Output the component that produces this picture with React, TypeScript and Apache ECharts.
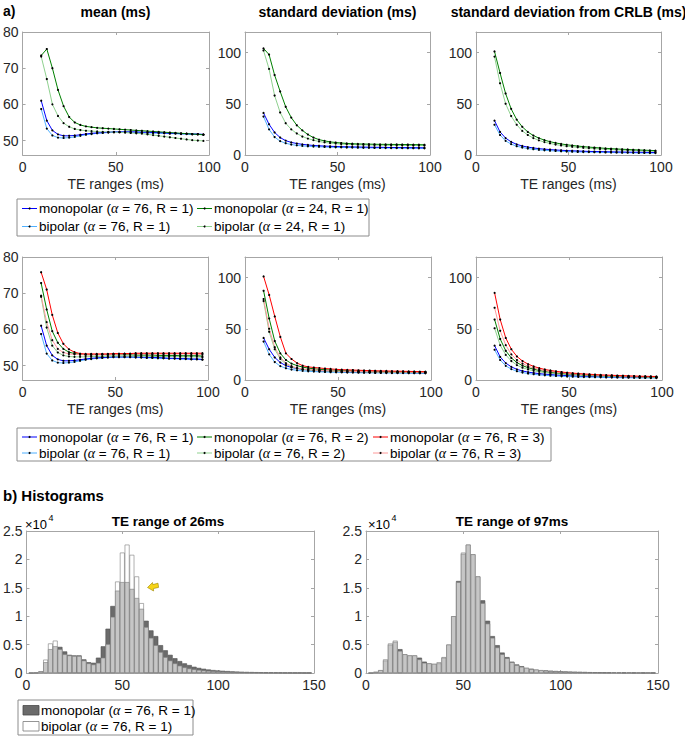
import React, { useEffect, useRef } from 'react';
import * as echarts from 'echarts';

// ---------- data ----------
const TE_RANGES = [10, 13, 16, 19, 22, 25, 28, 31, 34, 37, 40, 43, 46, 49, 52, 55, 58, 61, 64, 67, 70, 73, 76, 79, 82, 85, 88, 91, 94, 97];

const meanMono76 = [61.0, 55.5, 52.8, 51.7, 51.3, 51.3, 51.4, 51.6, 51.8, 52.0, 52.1, 52.2, 52.3, 52.4, 52.4, 52.4, 52.4, 52.4, 52.3, 52.3, 52.2, 52.2, 52.1, 52.0, 52.0, 51.9, 51.9, 51.8, 51.8, 51.7];
const meanBi76 = [58.7, 53.3, 51.4, 50.8, 50.7, 50.8, 51.0, 51.3, 51.6, 51.8, 52.0, 52.1, 52.2, 52.3, 52.3, 52.3, 52.3, 52.2, 52.2, 52.1, 52.1, 52.0, 52.0, 51.9, 51.9, 51.8, 51.8, 51.7, 51.7, 51.6];
const meanMono24 = [73.5, 75.3, 70.0, 64.0, 59.5, 56.5, 55.0, 54.3, 53.9, 53.7, 53.5, 53.4, 53.3, 53.2, 53.1, 53.0, 52.9, 52.8, 52.7, 52.6, 52.5, 52.4, 52.3, 52.2, 52.1, 52.0, 51.9, 51.8, 51.7, 51.6];
const meanBi24 = [73.2, 67.0, 60.0, 56.8, 54.8, 53.8, 53.2, 52.9, 52.7, 52.6, 52.5, 52.4, 52.4, 52.3, 52.3, 52.2, 52.1, 52.0, 51.9, 51.7, 51.5, 51.3, 51.1, 50.9, 50.7, 50.5, 50.3, 50.1, 50.0, 49.9];

const sdMono76 = [41, 30, 22, 17, 14, 12.3, 11.2, 10.4, 9.8, 9.3, 9.0, 8.7, 8.5, 8.3, 8.1, 8.0, 7.9, 7.8, 7.7, 7.6, 7.5, 7.5, 7.4, 7.3, 7.3, 7.2, 7.2, 7.1, 7.1, 7.0];
const sdBi76 = [37.5, 25, 17.5, 13.5, 11.5, 10.2, 9.4, 8.9, 8.5, 8.2, 8.0, 7.8, 7.6, 7.5, 7.4, 7.3, 7.2, 7.1, 7.0, 7.0, 6.9, 6.9, 6.8, 6.8, 6.7, 6.7, 6.6, 6.6, 6.5, 6.5];
const sdMono24 = [104, 98, 78, 62, 47, 36.5, 29, 24, 20, 17, 15, 13.8, 12.8, 12.2, 11.7, 11.3, 11.0, 10.8, 10.7, 10.6, 10.5, 10.4, 10.4, 10.3, 10.3, 10.2, 10.2, 10.1, 10.1, 10.0];
const sdBi24 = [102, 84, 58, 41.5, 31, 25, 21, 18, 16, 14.5, 13.2, 12.3, 11.6, 11.1, 10.7, 10.4, 10.2, 10.0, 9.9, 9.8, 9.7, 9.6, 9.5, 9.5, 9.4, 9.4, 9.3, 9.3, 9.2, 9.2];

const crlbMono24 = [101, 80, 60, 45, 34.5, 27.5, 22.5, 19, 16.5, 14.5, 13, 11.8, 10.8, 10, 9.3, 8.7, 8.2, 7.7, 7.3, 6.9, 6.5, 6.2, 5.9, 5.6, 5.4, 5.1, 4.9, 4.7, 4.5, 4.3];
const crlbBi24 = [96, 70, 50, 38, 29.5, 23.5, 19.5, 16.5, 14.3, 12.6, 11.3, 10.2, 9.3, 8.6, 8.0, 7.5, 7.0, 6.6, 6.2, 5.9, 5.6, 5.3, 5.0, 4.8, 4.6, 4.4, 4.2, 4.0, 3.8, 3.7];
const crlbMono76 = [33.5, 22.5, 16.5, 12.8, 10.4, 8.8, 7.7, 6.9, 6.2, 5.7, 5.3, 4.9, 4.6, 4.3, 4.1, 3.9, 3.7, 3.5, 3.4, 3.3, 3.2, 3.1, 3.0, 2.9, 2.8, 2.7, 2.7, 2.6, 2.5, 2.5];
const crlbBi76 = [29.5, 19.5, 13.8, 10.6, 8.6, 7.3, 6.3, 5.6, 5.0, 4.6, 4.2, 3.9, 3.6, 3.4, 3.2, 3.0, 2.9, 2.8, 2.7, 2.6, 2.5, 2.4, 2.3, 2.2, 2.2, 2.1, 2.0, 2.0, 1.9, 1.9];

const meanMonoR2 = [72.8, 65.5, 59.5, 56.3, 54.6, 53.7, 53.3, 53.1, 53.0, 53.0, 53.0, 53.0, 53.0, 53.0, 53.0, 53.0, 53.0, 52.9, 52.9, 52.9, 52.9, 52.8, 52.8, 52.8, 52.8, 52.7, 52.7, 52.7, 52.7, 52.6];
const meanBiR2 = [69.0, 60.5, 55.5, 53.6, 52.8, 52.5, 52.4, 52.4, 52.4, 52.5, 52.5, 52.5, 52.6, 52.6, 52.6, 52.6, 52.6, 52.6, 52.6, 52.6, 52.5, 52.5, 52.5, 52.5, 52.5, 52.4, 52.4, 52.4, 52.4, 52.3];
const meanMonoR3 = [75.8, 71.0, 64.0, 59.0, 56.0, 54.5, 53.7, 53.3, 53.2, 53.2, 53.2, 53.2, 53.2, 53.3, 53.3, 53.3, 53.3, 53.4, 53.4, 53.4, 53.4, 53.4, 53.4, 53.4, 53.4, 53.4, 53.4, 53.4, 53.4, 53.4];
const meanBiR3 = [69.3, 62.0, 57.0, 54.6, 53.6, 53.2, 53.1, 53.0, 53.0, 53.0, 53.0, 53.1, 53.1, 53.1, 53.1, 53.2, 53.2, 53.2, 53.2, 53.2, 53.2, 53.2, 53.2, 53.2, 53.2, 53.2, 53.2, 53.2, 53.1, 53.1];

const sdMonoR2 = [87, 60, 38, 26, 19.5, 16, 14, 12.6, 11.6, 10.9, 10.4, 10.0, 9.7, 9.4, 9.2, 9.0, 8.8, 8.7, 8.6, 8.5, 8.4, 8.3, 8.2, 8.1, 8.0, 8.0, 7.9, 7.9, 7.8, 7.8];
const sdBiR2 = [77, 47, 30, 20.5, 15.5, 12.8, 11.3, 10.3, 9.7, 9.3, 9.0, 8.7, 8.5, 8.3, 8.1, 8.0, 7.9, 7.8, 7.7, 7.6, 7.5, 7.5, 7.4, 7.4, 7.3, 7.3, 7.2, 7.2, 7.1, 7.1];
const sdMonoR3 = [101, 83, 62, 42, 26, 20.5, 16.5, 14, 12.8, 12.2, 11.7, 11.2, 10.8, 10.4, 10.1, 9.9, 9.7, 9.5, 9.3, 9.2, 9.0, 8.9, 8.8, 8.7, 8.6, 8.5, 8.4, 8.3, 8.2, 8.1];
const sdBiR3 = [79, 50, 32, 22, 16.5, 13.5, 11.8, 10.8, 10.2, 9.8, 9.5, 9.2, 9.0, 8.8, 8.6, 8.5, 8.4, 8.3, 8.2, 8.1, 8.0, 7.9, 7.9, 7.8, 7.8, 7.7, 7.7, 7.6, 7.6, 7.5];

const crlbMonoR2 = [59, 40, 28.5, 21.5, 17, 14, 12, 10.5, 9.3, 8.4, 7.6, 7.0, 6.5, 6.1, 5.7, 5.4, 5.1, 4.8, 4.6, 4.4, 4.2, 4.0, 3.8, 3.7, 3.5, 3.4, 3.3, 3.2, 3.1, 3.0];
const crlbBiR2 = [50.5, 34, 24.5, 18.5, 14.5, 12, 10.3, 9.0, 8.0, 7.2, 6.6, 6.1, 5.6, 5.2, 4.9, 4.6, 4.3, 4.1, 3.9, 3.7, 3.5, 3.4, 3.2, 3.1, 3.0, 2.9, 2.8, 2.7, 2.6, 2.5];
const crlbMonoR3 = [85, 59, 41, 30, 23, 18.5, 15.5, 13.3, 11.6, 10.3, 9.3, 8.5, 7.8, 7.2, 6.7, 6.3, 5.9, 5.6, 5.3, 5.0, 4.8, 4.6, 4.4, 4.2, 4.0, 3.9, 3.7, 3.6, 3.5, 3.4];
const crlbBiR3 = [70.5, 48, 34, 25, 19.5, 16, 13.5, 11.7, 10.3, 9.2, 8.3, 7.6, 7.0, 6.5, 6.0, 5.6, 5.3, 5.0, 4.7, 4.5, 4.3, 4.1, 3.9, 3.7, 3.6, 3.4, 3.3, 3.2, 3.1, 3.0];

// histogram bin centres (ms) and counts (x10^4)
const HIST_CENTERS = [
  2.5, 5, 7.5, 10, 12.5, 15, 17.5, 20, 22.5, 25,
  27.5, 30, 32.5, 35, 37.5, 40, 42.5, 45, 47.5, 50,
  52.5, 55, 57.5, 60, 62.5, 65, 67.5, 70, 72.5, 75,
  77.5, 80, 82.5, 85, 87.5, 90, 92.5, 95, 97.5, 100,
  102.5, 105, 107.5, 110, 112.5, 115, 117.5, 120, 122.5, 125,
  127.5, 130, 132.5, 135, 137.5, 140, 142.5, 145, 147.5,
];
const hist26Mono = [
  0.003, 0.005, 0.03, 0.19, 0.42, 0.47, 0.46, 0.38, 0.32, 0.31,
  0.31, 0.24, 0.19, 0.18, 0.27, 0.47, 0.78, 1.18, 1.45, 1.60,
  1.60, 1.48, 1.32, 1.13, 0.92, 0.75, 0.65, 0.49, 0.40, 0.32,
  0.26, 0.21, 0.17, 0.14, 0.11, 0.09, 0.075, 0.062, 0.052, 0.045,
  0.039, 0.034, 0.029, 0.025, 0.022, 0.019, 0.017, 0.015, 0.013, 0.012,
  0.011, 0.010, 0.009, 0.008, 0.008, 0.007, 0.007, 0.006, 0.006,
];
const hist26Bi = [
  0.003, 0.005, 0.03, 0.235, 0.52, 0.57, 0.42, 0.33, 0.31, 0.30,
  0.30, 0.22, 0.17, 0.15, 0.18, 0.27, 0.51, 0.99, 1.61, 2.12,
  2.26, 2.08, 1.70, 1.23, 0.81, 0.62, 0.49, 0.37, 0.28, 0.22,
  0.17, 0.13, 0.10, 0.08, 0.065, 0.055, 0.045, 0.038, 0.032, 0.028,
  0.024, 0.021, 0.018, 0.016, 0.014, 0.013, 0.012, 0.011, 0.010, 0.009,
  0.009, 0.008, 0.008, 0.007, 0.007, 0.006, 0.006, 0.005, 0.005,
];
const hist97Mono = [
  0.002, 0.02, 0.05, 0.22, 0.50, 0.55, 0.42, 0.33, 0.31, 0.31,
  0.27, 0.20, 0.17, 0.16, 0.17, 0.27, 0.50, 1.00, 1.62, 2.10,
  2.26, 2.09, 1.70, 1.28, 0.92, 0.65, 0.49, 0.36, 0.28, 0.20,
  0.15, 0.12, 0.09, 0.075, 0.06, 0.05, 0.045, 0.04, 0.035, 0.03,
  0.027, 0.024, 0.021, 0.019, 0.017, 0.015, 0.014, 0.013, 0.012, 0.011,
  0.010, 0.009, 0.009, 0.008, 0.008, 0.007, 0.007, 0.006, 0.006,
];
const hist97Bi = [
  0.002, 0.02, 0.05, 0.24, 0.52, 0.57, 0.39, 0.33, 0.31, 0.31,
  0.24, 0.18, 0.17, 0.16, 0.19, 0.28, 0.50, 1.00, 1.60, 2.12,
  2.26, 2.09, 1.70, 1.23, 0.87, 0.62, 0.45, 0.33, 0.26, 0.19,
  0.14, 0.11, 0.09, 0.07, 0.06, 0.05, 0.04, 0.035, 0.032, 0.028,
  0.025, 0.022, 0.02, 0.018, 0.016, 0.014, 0.013, 0.012, 0.011, 0.010,
  0.010, 0.009, 0.008, 0.008, 0.007, 0.007, 0.006, 0.006, 0.005,
];

const PANEL_TITLES = ['mean (ms)', 'standard deviation (ms)', 'standard deviation from CRLB (ms)'];
const X_NAME = 'TE ranges (ms)';
const HIST_TITLES = ['TE range of 26ms', 'TE range of 97ms'];
const MEAN_TICKS = [50, 60, 70, 80];
const SD_TICKS = [0, 50, 100];

// ---------- styling ----------
const FONT = '"Liberation Sans", Arial, Helvetica, sans-serif';
const SERIF = '"Liberation Serif", "Times New Roman", serif';
const INK = '#262626';
const FRAME = '#a6a6a6';
const COL = {
  blue: '#0000ff',
  lblue: '#4fb0ff',
  dgreen: '#007f00',
  lgreen: '#8fd18f',
  red: '#ff0000',
  pink: '#ff9a9a',
};
const DARK_BAR = '#6b6b6b';
const LIGHT_BAR = '#c6c6c6';

const GRIDS = [
  { left: 22, top: 32, width: 187, height: 123 },
  { left: 245, top: 32, width: 185, height: 123 },
  { left: 476, top: 32, width: 185, height: 123 },
  { left: 22, top: 257, width: 186, height: 123 },
  { left: 245, top: 257, width: 186, height: 123 },
  { left: 476, top: 257, width: 186, height: 123 },
  { left: 22, top: 531, width: 292, height: 142 },
  { left: 366, top: 531, width: 292, height: 142 },
];

function makeX(gi: number, min: number, max: number, interval: number, name?: string) {
  const base: any = {
    type: 'value', gridIndex: gi, min, max, interval,
    splitLine: { show: false },
    axisLine: { show: true, onZero: false, lineStyle: { color: FRAME, width: 1 } },
    axisTick: { show: true, inside: true, length: 3, lineStyle: { color: FRAME, width: 1 } },
  };
  return [
    {
      ...base, position: 'bottom',
      axisLabel: { show: true, color: INK, fontSize: 14, margin: 5, fontFamily: FONT },
      name: name || '', nameLocation: 'middle', nameGap: 22,
      nameTextStyle: { color: INK, fontSize: 14, fontFamily: FONT },
    },
    { ...base, position: 'top', axisLabel: { show: false } },
  ];
}

function makeY(gi: number, min: number, max: number, ticks: number[] | null, interval?: number) {
  const custom = ticks ? { customValues: ticks } : {};
  const base: any = {
    type: 'value', gridIndex: gi, min, max,
    splitLine: { show: false },
    axisLine: { show: true, onZero: false, lineStyle: { color: FRAME, width: 1 } },
    axisTick: { show: true, inside: true, length: 3, lineStyle: { color: FRAME, width: 1 }, ...custom },
  };
  if (interval !== undefined) base.interval = interval;
  return [
    { ...base, position: 'left', axisLabel: { show: true, color: INK, fontSize: 14, margin: 4, fontFamily: FONT, ...custom } },
    { ...base, position: 'right', axisLabel: { show: false } },
  ];
}

function line(gi: number, ys: number[], color: string) {
  return {
    type: 'line', xAxisIndex: 2 * gi, yAxisIndex: 2 * gi,
    data: TE_RANGES.map((x, i) => [x, ys[i]]),
    symbol: 'circle', symbolSize: 2.2, showSymbol: true,
    lineStyle: { color, width: 1 }, itemStyle: { color: '#000' },
    silent: true, emphasis: { disabled: true },
  };
}

// two overlaid histograms: the taller bar of each bin (dark = monopolar only,
// white = bipolar only), with the shared part drawn light grey on top
function hist(gi: number, mono: number[], bi: number[]) {
  const common: any = {
    type: 'bar', xAxisIndex: 2 * gi, yAxisIndex: 2 * gi,
    barWidth: 4.87, barGap: '-100%', silent: true,
  };
  return [
    {
      ...common, z: 2,
      data: HIST_CENTERS.map((x, i) => ({
        value: [x, Math.max(mono[i], bi[i])],
        itemStyle: mono[i] > bi[i]
          ? { color: DARK_BAR, borderColor: '#505050', borderWidth: 0.6 }
          : { color: '#ffffff', borderColor: '#7a7a7a', borderWidth: 0.6 },
      })),
    },
    {
      ...common, z: 3,
      data: HIST_CENTERS.map((x, i) => [x, Math.min(mono[i], bi[i])]),
      itemStyle: { color: LIGHT_BAR, borderColor: '#7a7a7a', borderWidth: 0.6 },
    },
  ];
}

function richText(kind: string, alpha: number, r: number) {
  return `{n|${kind} (}{a|α}{n| = ${alpha}, R = ${r})}`;
}
const RICH = {
  n: { fontSize: 13.5, fontFamily: FONT, color: '#000', fill: '#000' },
  a: { fontSize: 14, fontFamily: SERIF, fontStyle: 'italic', color: '#000', fill: '#000' },
};

function txt(x: number, y: number, text: string, size: number, weight: string, align = 'left', family = FONT) {
  return {
    type: 'text', x, y, silent: true,
    style: {
      text, fontSize: size, fontWeight: weight, fontFamily: family, fill: '#000',
      align, verticalAlign: 'middle', textAlign: align, textVerticalAlign: 'middle',
    },
  };
}

function legendLine(x: number, y: number, color: string, label: string) {
  return [
    { type: 'line', silent: true, shape: { x1: x, y1: y, x2: x + 15, y2: y }, style: { stroke: color, lineWidth: 1 } },
    { type: 'circle', silent: true, shape: { cx: x + 7.5, cy: y, r: 1 }, style: { fill: '#000' } },
    {
      type: 'text', silent: true, x: x + 17, y,
      style: { text: label, rich: RICH, fontSize: 13.5, fontFamily: FONT, fill: '#000', verticalAlign: 'middle', textVerticalAlign: 'middle' },
    },
  ];
}

function legendBox(x: number, y: number, w: number, h: number) {
  return { type: 'rect', silent: true, shape: { x, y, width: w, height: h }, style: { fill: '#fff', stroke: '#8c8c8c', lineWidth: 1 } };
}

export default function App() {
  const ref = useRef<HTMLDivElement>(null);

  useEffect(() => {
    if (!ref.current) return;
    const chart = echarts.init(ref.current, null, { renderer: 'svg' });

    const xAxis: any[] = [];
    const yAxis: any[] = [];
    for (let g = 0; g < 6; g++) {
      xAxis.push(...makeX(g, 0, 100, 50, X_NAME));
      const isMean = g % 3 === 0;
      yAxis.push(...(isMean ? makeY(g, 46, 80, MEAN_TICKS) : makeY(g, 0, 120, SD_TICKS)));
    }
    for (let g = 6; g < 8; g++) {
      xAxis.push(...makeX(g, 0, 150, 50));
      yAxis.push(...makeY(g, 0, 2.5, null, 0.5));
    }

    const series: any[] = [
      line(0, meanBi76, COL.lblue), line(0, meanMono76, COL.blue), line(0, meanBi24, COL.lgreen), line(0, meanMono24, COL.dgreen),
      line(1, sdBi76, COL.lblue), line(1, sdMono76, COL.blue), line(1, sdBi24, COL.lgreen), line(1, sdMono24, COL.dgreen),
      line(2, crlbBi76, COL.lblue), line(2, crlbMono76, COL.blue), line(2, crlbBi24, COL.lgreen), line(2, crlbMono24, COL.dgreen),
      line(3, meanBi76, COL.lblue), line(3, meanMono76, COL.blue), line(3, meanBiR2, COL.lgreen), line(3, meanMonoR2, COL.dgreen), line(3, meanBiR3, COL.pink), line(3, meanMonoR3, COL.red),
      line(4, sdBi76, COL.lblue), line(4, sdMono76, COL.blue), line(4, sdBiR2, COL.lgreen), line(4, sdMonoR2, COL.dgreen), line(4, sdBiR3, COL.pink), line(4, sdMonoR3, COL.red),
      line(5, crlbBi76, COL.lblue), line(5, crlbMono76, COL.blue), line(5, crlbBiR2, COL.lgreen), line(5, crlbMonoR2, COL.dgreen), line(5, crlbBiR3, COL.pink), line(5, crlbMonoR3, COL.red),
      ...hist(6, hist26Mono, hist26Bi),
      ...hist(7, hist97Mono, hist97Bi),
    ];

    const graphic: any[] = [
      txt(3, 11, 'a)', 14, 'bold'),
      txt(115.5, 12, PANEL_TITLES[0], 14, 'bold', 'center'),
      txt(337.5, 12, PANEL_TITLES[1], 14, 'bold', 'center'),
      txt(568.5, 12, PANEL_TITLES[2], 14, 'bold', 'center'),
      // legend 1
      legendBox(17, 199, 352, 37),
      ...legendLine(22, 208.5, COL.blue, richText('monopolar', 76, 1)),
      ...legendLine(197, 208.5, COL.dgreen, richText('monopolar', 24, 1)),
      ...legendLine(22, 226.5, COL.lblue, richText('bipolar', 76, 1)),
      ...legendLine(197, 226.5, COL.lgreen, richText('bipolar', 24, 1)),
      // legend 2
      legendBox(17, 428, 534, 33),
      ...legendLine(22, 437, COL.blue, richText('monopolar', 76, 1)),
      ...legendLine(197, 437, COL.dgreen, richText('monopolar', 76, 2)),
      ...legendLine(373, 437, COL.red, richText('monopolar', 76, 3)),
      ...legendLine(22, 453, COL.lblue, richText('bipolar', 76, 1)),
      ...legendLine(197, 453, COL.lgreen, richText('bipolar', 76, 2)),
      ...legendLine(373, 453, COL.pink, richText('bipolar', 76, 3)),
      // histograms
      txt(3, 495, 'b) Histograms', 15, 'bold'),
      txt(168, 521.5, HIST_TITLES[0], 13.5, 'bold', 'center'),
      txt(512, 521.5, HIST_TITLES[1], 13.5, 'bold', 'center'),
      txt(25, 524, '×10', 13, 'normal'),
      txt(48.5, 518, '4', 9, 'normal'),
      txt(368, 524, '×10', 13, 'normal'),
      txt(391.5, 518, '4', 9, 'normal'),
      {
        type: 'polygon', silent: true,
        shape: { points: [[147.5, 587.5], [152.5, 582.5], [152.8, 584.6], [158, 583.2], [158.6, 587.4], [153.4, 588.6], [153.6, 591]] },
        style: { fill: '#f7d417', stroke: '#9a8400', lineWidth: 0.6 },
      },
      // legend 3
      legendBox(18, 700, 175, 35),
      { type: 'rect', silent: true, shape: { x: 23, y: 705.5, width: 16, height: 9.5 }, style: { fill: DARK_BAR, stroke: '#4a4a4a', lineWidth: 0.8 } },
      { type: 'text', silent: true, x: 41, y: 710.5, style: { text: richText('monopolar', 76, 1), rich: RICH, fontSize: 13.5, fontFamily: FONT, fill: '#000', verticalAlign: 'middle', textVerticalAlign: 'middle' } },
      { type: 'rect', silent: true, shape: { x: 23, y: 721.5, width: 16, height: 9.5 }, style: { fill: '#ffffff', stroke: '#7a7a7a', lineWidth: 0.8 } },
      { type: 'text', silent: true, x: 41, y: 726.5, style: { text: richText('bipolar', 76, 1), rich: RICH, fontSize: 13.5, fontFamily: FONT, fill: '#000', verticalAlign: 'middle', textVerticalAlign: 'middle' } },
    ];

    chart.setOption({
      animation: false,
      backgroundColor: '#ffffff',
      textStyle: { fontFamily: FONT },
      grid: GRIDS.map((g) => ({ ...g, containLabel: false })),
      xAxis,
      yAxis,
      series,
      graphic,
    });

    return () => chart.dispose();
  }, []);

  return <div ref={ref} style={{ position: 'absolute', left: 0, top: 0, width: 685, height: 736 }} />;
}
